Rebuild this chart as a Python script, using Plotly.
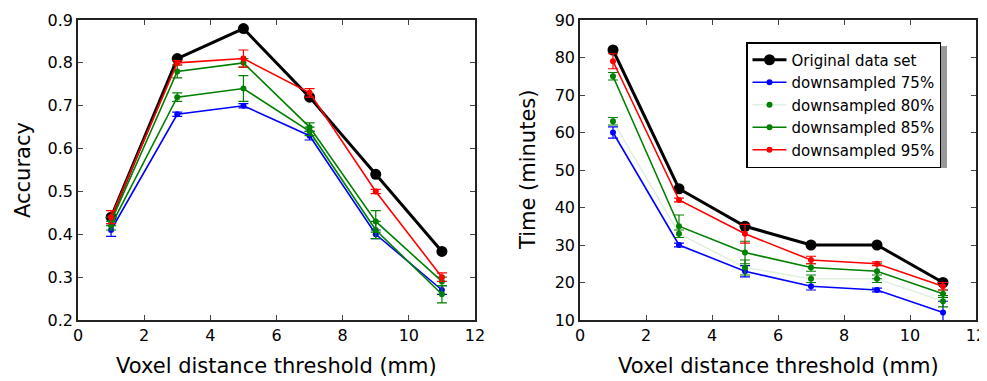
import plotly.graph_objects as go

# ---------------- data ----------------
thresholds = [1, 3, 5, 7, 9, 11]

series_names = ["Original data set", "downsampled 75%", "downsampled 80%",
                "downsampled 85%", "downsampled 95%"]

acc_original = [0.44, 0.81, 0.88, 0.72, 0.54, 0.36]
acc_75 = [0.41, 0.68, 0.70, 0.63, 0.40, 0.27]
acc_80 = [0.42, 0.72, 0.74, 0.64, 0.41, 0.26]
acc_85 = [0.43, 0.78, 0.80, 0.65, 0.43, 0.29]
acc_95 = [0.44, 0.80, 0.81, 0.73, 0.50, 0.30]

acc_err_75 = [0.015, 0.005, 0.005, 0.01, 0.01, 0.01]
acc_err_80 = [0.01, 0.01, 0.03, 0.01, 0.02, 0.02]
acc_err_85 = [0.01, 0.015, 0.01, 0.01, 0.025, 0.01]
acc_err_95 = [0.015, 0.005, 0.02, 0.01, 0.005, 0.01]

time_original = [82, 45, 35, 30, 30, 20]
time_75 = [60, 30, 23, 19, 18, 12]
time_80 = [63, 33, 24, 21, 21, 15]
time_85 = [75, 35, 28, 24, 23, 17]
time_95 = [79, 42, 33, 26, 25, 19]

time_err_75 = [1.5, 0.5, 1.5, 1.0, 0.5, 3.0]
time_err_80 = [1.0, 1.0, 2.0, 1.0, 1.0, 1.5]
time_err_85 = [1.0, 3.0, 3.0, 1.0, 2.0, 1.0]
time_err_95 = [2.0, 0.5, 2.5, 1.0, 0.5, 1.0]

# ---------------- styling ----------------
OFF = 8                      # page body margin
W, H = 987 - OFF, 381 - OFF
FONT = "DejaVu Sans"
BLUE, GREEN, RED = "#0000ff", "#008000", "#ff0000"

def px_x(p):
    return (p - OFF) / W

def px_y(p):
    return 1 - (p - OFF) / H

fig = go.Figure()

def add_panel(xa, ya, orig, vals, errs, faint80, show_legend):
    fig.add_trace(go.Scatter(
        x=thresholds, y=orig, name=series_names[0], mode="lines+markers",
        line=dict(color="black", width=3), marker=dict(color="black", size=11),
        xaxis=xa, yaxis=ya, showlegend=show_legend, legendgroup="g0"))
    colors = [BLUE, GREEN, GREEN, RED]
    for i, (v, e, c) in enumerate(zip(vals, errs, colors)):
        line_color = c
        if i == 1 and faint80:
            line_color = "rgba(0,128,0,0.12)"
        fig.add_trace(go.Scatter(
            x=thresholds, y=v, name=series_names[i + 1], mode="lines+markers",
            line=dict(color=line_color, width=1.6),
            marker=dict(color=c, size=6),
            error_y=dict(type="data", array=e, visible=True, color=c,
                         thickness=1.2, width=5),
            xaxis=xa, yaxis=ya, showlegend=show_legend,
            legendgroup="g%d" % (i + 1)))

add_panel("x", "y", acc_original, [acc_75, acc_80, acc_85, acc_95],
          [acc_err_75, acc_err_80, acc_err_85, acc_err_95], False, False)
add_panel("x2", "y2", time_original, [time_75, time_80, time_85, time_95],
          [time_err_75, time_err_80, time_err_85, time_err_95], True, True)

axis_common = dict(showline=True, linecolor="#222222", linewidth=1.5,
                   mirror="ticks", ticks="inside", ticklen=5, tickwidth=1,
                   tickcolor="#444444", showgrid=False, zeroline=False,
                   automargin=False,
                   tickfont=dict(family=FONT, size=16, color="black"))

fig.update_layout(
    width=W, height=H,
    margin=dict(l=0, r=0, t=0, b=0, pad=0, autoexpand=False),
    paper_bgcolor="white", plot_bgcolor="white",
    font=dict(family=FONT, color="black"),
    xaxis=dict(domain=[px_x(78), px_x(475)], range=[0, 12], dtick=2,
               anchor="y", **axis_common),
    yaxis=dict(domain=[px_y(320), px_y(20)], range=[0.2, 0.9], dtick=0.1,
               tickformat=".1f", anchor="x", **axis_common),
    xaxis2=dict(domain=[px_x(580), px_x(976)], range=[0, 12], dtick=2,
                anchor="y2", **axis_common),
    yaxis2=dict(domain=[px_y(320), px_y(20)], range=[10, 90], dtick=10,
                anchor="x2", **axis_common),
    legend=dict(x=px_x(746), y=px_y(42), xanchor="left", yanchor="top",
                bgcolor="white", bordercolor="black", borderwidth=1.5,
                font=dict(family=FONT, size=15, color="black"),
                tracegroupgap=0, itemwidth=34),
    shapes=[dict(type="rect", xref="paper", yref="paper",
                 x0=px_x(750), x1=px_x(947), y0=px_y(168), y1=px_y(46),
                 fillcolor="#999999", line=dict(width=0), layer="above")],
    annotations=[
        dict(text="Accuracy", x=px_x(23), y=px_y(170), xref="paper", yref="paper",
             xanchor="center", yanchor="middle",
             textangle=-90, showarrow=False, font=dict(family=FONT, size=21)),
        dict(text="Time (minutes)", x=px_x(528), y=px_y(170), xref="paper",
             yref="paper", xanchor="center", yanchor="middle",
             textangle=-90, showarrow=False,
             font=dict(family=FONT, size=21)),
        dict(text="Voxel distance threshold (mm)", x=px_x(276), y=px_y(366),
             xref="paper", yref="paper", xanchor="center", yanchor="middle",
             showarrow=False, font=dict(family=FONT, size=21)),
        dict(text="Voxel distance threshold (mm)", x=px_x(778), y=px_y(366),
             xref="paper", yref="paper", xanchor="center", yanchor="middle",
             showarrow=False, font=dict(family=FONT, size=21)),
    ],
)

fig.write_html("out.html")
